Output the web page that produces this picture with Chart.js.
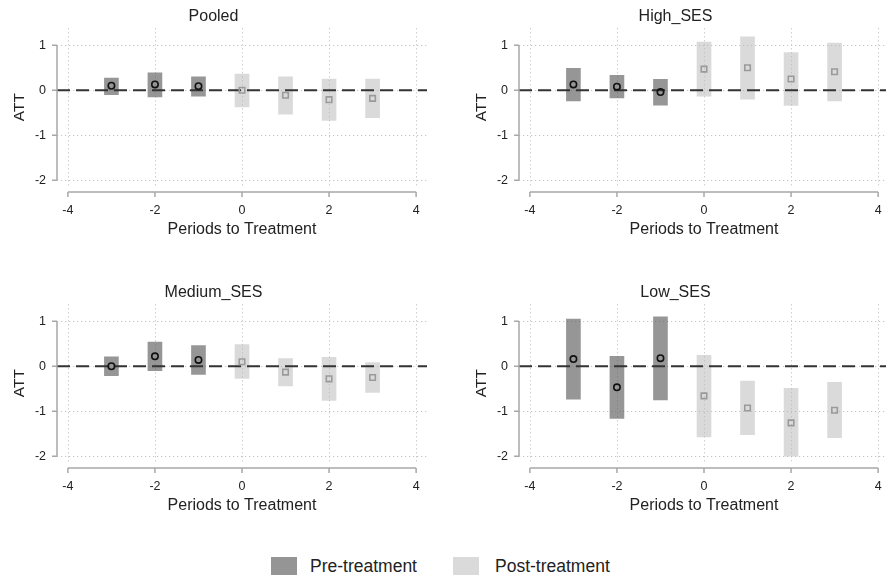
<!DOCTYPE html>
<html>
<head>
<meta charset="utf-8">
<script src="https://cdn.jsdelivr.net/npm/chart.js@4.4.1/dist/chart.umd.min.js"></script>
<style>
html,body{margin:0;padding:0;width:886px;height:577px;overflow:hidden;background:#fff;}
#wrap{position:relative;width:886px;height:577px;overflow:hidden;font-family:"Liberation Sans",Arial,sans-serif;}
.panel{position:absolute;width:443px;height:276px;}
.lbox{position:absolute;top:557px;width:26px;height:18px;}
.ltext{position:absolute;top:555px;font-size:17.5px;line-height:22px;color:#222;white-space:nowrap;}
</style>
</head>
<body>
<div id="wrap">
  <div class="panel" style="left:0;top:0"><canvas id="c0"></canvas></div>
  <div class="panel" style="left:462px;top:0"><canvas id="c1"></canvas></div>
  <div class="panel" style="left:0;top:276px"><canvas id="c2"></canvas></div>
  <div class="panel" style="left:462px;top:276px"><canvas id="c3"></canvas></div>
  <div class="lbox" style="left:271px;background:#959595"></div>
  <div class="ltext" style="left:310px">Pre-treatment</div>
  <div class="lbox" style="left:453px;background:#dadada"></div>
  <div class="ltext" style="left:495px">Post-treatment</div>
</div>
<script>
// ---- data ----
const periods = [-3, -2, -1, 0, 1, 2, 3];
const panelTitles = ['Pooled', 'High_SES', 'Medium_SES', 'Low_SES'];

const pooledATT = [0.10, 0.13, 0.09, 0.00, -0.11, -0.21, -0.18];
const pooledLo  = [-0.10, -0.15, -0.13, -0.37, -0.53, -0.67, -0.61];
const pooledHi  = [0.27, 0.39, 0.30, 0.36, 0.30, 0.25, 0.25];

const highATT = [0.13, 0.08, -0.04, 0.47, 0.50, 0.25, 0.41];
const highLo  = [-0.24, -0.17, -0.33, -0.13, -0.20, -0.34, -0.24];
const highHi  = [0.49, 0.33, 0.24, 1.07, 1.19, 0.84, 1.05];

const mediumATT = [0.00, 0.22, 0.14, 0.10, -0.13, -0.28, -0.25];
const mediumLo  = [-0.21, -0.10, -0.18, -0.27, -0.44, -0.76, -0.58];
const mediumHi  = [0.21, 0.54, 0.46, 0.48, 0.17, 0.20, 0.08];

const lowATT = [0.16, -0.47, 0.18, -0.66, -0.93, -1.26, -0.98];
const lowLo  = [-0.73, -1.16, -0.75, -1.57, -1.52, -2.00, -1.59];
const lowHi  = [1.05, 0.22, 1.10, 0.24, -0.33, -0.49, -0.36];

const xTicks = [-4, -2, 0, 2, 4];
const yTicks = [1, 0, -1, -2];
const X_MIN = -4.25, X_MAX = 4.25;
const Y_MIN = -2.13, Y_MAX = 1.38;

// ---- styles ----
const FONT = '"Liberation Sans", Arial, sans-serif';
const DARK = 'rgba(95,95,95,0.66)';
const LIGHT = 'rgba(185,185,185,0.52)';
const AXIS_COLOR = '#a8a8a8';
const GRID_COLOR = '#c4c4c4';
const GRID_DASH = [1.2, 2.8];

const stataAxes = {
  id: 'stataAxes',
  beforeDatasetsDraw(chart) {
    // vertical dotted grid lines at the x ticks
    const {ctx, chartArea, scales: {x}} = chart;
    ctx.save();
    ctx.strokeStyle = GRID_COLOR;
    ctx.lineWidth = 1;
    ctx.setLineDash(GRID_DASH);
    ctx.beginPath();
    xTicks.forEach(v => {
      const px = Math.round(x.getPixelForValue(v)) + 0.5;
      ctx.moveTo(px, chartArea.top); ctx.lineTo(px, chartArea.bottom);
    });
    ctx.stroke();
    ctx.restore();
  },
  afterDraw(chart) {
    const {ctx, chartArea, scales: {x, y}} = chart;
    ctx.save();
    ctx.strokeStyle = AXIS_COLOR;
    ctx.lineWidth = 1.5;
    ctx.beginPath();
    const xl = chartArea.left;
    const yTop = y.getPixelForValue(Math.max(...yTicks));
    const yBot = y.getPixelForValue(Math.min(...yTicks));
    ctx.moveTo(xl, yTop); ctx.lineTo(xl, yBot);
    yTicks.forEach(v => { const py = y.getPixelForValue(v); ctx.moveTo(xl - 5, py); ctx.lineTo(xl, py); });
    const ya = chartArea.bottom + 6;
    const xL = x.getPixelForValue(Math.min(...xTicks));
    const xR = x.getPixelForValue(Math.max(...xTicks));
    ctx.moveTo(xL, ya); ctx.lineTo(xR, ya);
    xTicks.forEach(v => { const px = x.getPixelForValue(v); ctx.moveTo(px, ya); ctx.lineTo(px, ya + 5); });
    ctx.stroke();
    ctx.restore();
  }
};

function makeChart(id, title, att, lo, hi) {
  const preIdx = periods.map((p, i) => i).filter(i => periods[i] < 0);
  const postIdx = periods.map((p, i) => i).filter(i => periods[i] >= 0);
  const barData = idx => idx.map(i => ({x: periods[i], y: [lo[i], hi[i]]}));
  const ptData = idx => idx.map(i => ({x: periods[i], y: att[i]}));
  return new Chart(document.getElementById(id), {
    type: 'bar',
    data: {
      datasets: [
        {type: 'bar', label: 'Pre-treatment', data: barData(preIdx), backgroundColor: DARK,
         borderWidth: 0, barThickness: 14, grouped: false, order: 5},
        {type: 'bar', label: 'Post-treatment', data: barData(postIdx), backgroundColor: LIGHT,
         borderWidth: 0, barThickness: 14, grouped: false, order: 5},
        {type: 'line', label: 'zero', data: [{x: X_MIN, y: 0}, {x: X_MAX, y: 0}],
         borderColor: '#333', borderWidth: 1.8, borderDash: [13, 6], pointRadius: 0, tension: 0, order: 3},
        {type: 'scatter', label: 'pre pts', data: ptData(preIdx), pointStyle: 'circle', pointRadius: 3.2,
         borderColor: '#111', borderWidth: 1.6, backgroundColor: 'rgba(0,0,0,0)', order: 1},
        {type: 'scatter', label: 'post pts', data: ptData(postIdx), pointStyle: 'rect', pointRadius: 3.9,
         borderColor: '#9a9a9a', borderWidth: 1.6, backgroundColor: 'rgba(0,0,0,0)', order: 2}
      ]
    },
    options: {
      responsive: true,
      maintainAspectRatio: false,
      animation: false,
      layout: {padding: {left: 0, right: 16, top: 0, bottom: 30}},
      plugins: {
        legend: {display: false},
        tooltip: {enabled: false},
        title: {display: true, text: title, color: '#222',
                font: {family: FONT, size: 16, weight: 'normal'}, padding: {top: 7, bottom: 2}}
      },
      scales: {
        x: {
          type: 'linear', min: X_MIN, max: X_MAX, offset: false,
          afterBuildTicks: s => { s.ticks = xTicks.map(v => ({value: v})); },
          afterFit: s => { s.height = 60; },
          grid: {display: false, drawTicks: false, offset: false},
          border: {display: false},
          ticks: {color: '#222', padding: 17, font: {family: FONT, size: 12.5}, callback: v => String(v), maxRotation: 0},
          title: {display: true, text: 'Periods to Treatment', color: '#222',
                  font: {family: FONT, size: 16}, padding: {top: 0, bottom: 7}}
        },
        y: {
          type: 'linear', min: Y_MIN, max: Y_MAX,
          afterBuildTicks: s => { s.ticks = yTicks.map(v => ({value: v})); },
          afterFit: s => { s.width = 57; },
          grid: {display: true, drawTicks: false, offset: false, color: GRID_COLOR, lineWidth: 1},
          border: {display: false, dash: GRID_DASH},
          ticks: {color: '#222', padding: 11, font: {family: FONT, size: 12.5}, callback: v => String(v)},
          title: {display: true, text: 'ATT', color: '#222',
                  font: {family: FONT, size: 15.5}, padding: {top: 10, bottom: 0}}
        }
      }
    },
    plugins: [stataAxes]
  });
}

makeChart('c0', panelTitles[0], pooledATT, pooledLo, pooledHi);
makeChart('c1', panelTitles[1], highATT, highLo, highHi);
makeChart('c2', panelTitles[2], mediumATT, mediumLo, mediumHi);
makeChart('c3', panelTitles[3], lowATT, lowLo, lowHi);
</script>
</body>
</html>
